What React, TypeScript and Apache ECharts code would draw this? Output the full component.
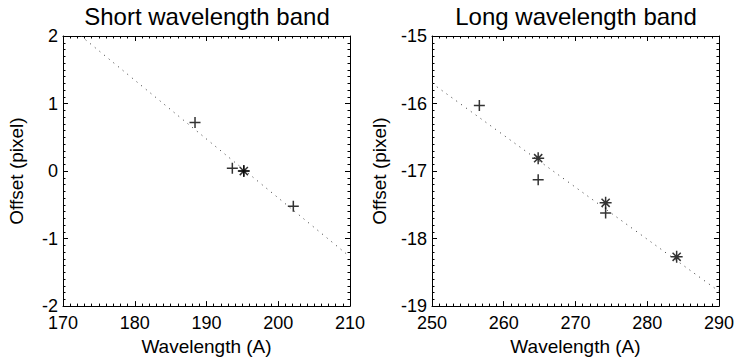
import React, { useEffect, useRef } from "react";
import * as echarts from "echarts";

const shortPlus: [number, number][] = [
  [188.4, 0.72],
  [193.6, 0.04],
  [195.2, 0.0],
  [202.1, -0.52],
];
const shortStar: [number, number][] = [[195.2, 0.0]];
const shortFit: [number, number][] = [
  [172.5, 2.0],
  [210, -1.27],
];

const longPlus: [number, number][] = [
  [256.6, -16.03],
  [264.8, -17.13],
  [274.2, -17.62],
];
const longStar: [number, number][] = [
  [264.8, -16.81],
  [274.2, -17.47],
  [284.1, -18.27],
];
const longFit: [number, number][] = [
  [250, -15.7],
  [290, -18.78],
];

const titles = ["Short wavelength band", "Long wavelength band"];
const xName = "Wavelength (A)";
const yName = "Offset (pixel)";
const xRanges: [number, number][] = [
  [170, 210],
  [250, 290],
];
const yRanges: [number, number][] = [
  [-2, 2],
  [-19, -15],
];

const FONT = "Liberation Sans, Arial, Helvetica, sans-serif";
const PLUS = "path://M0,5L10,5M5,0L5,10";
const STAR = "path://M0,5L10,5M5,0L5,10M1.6,1.6L8.4,8.4M1.6,8.4L8.4,1.6";

export default function App() {
  const ref = useRef<HTMLDivElement>(null);
  useEffect(() => {
    if (!ref.current) return;
    const chart = echarts.init(ref.current, undefined, { renderer: "svg" });
    const grids = [
      { left: 63, right: 387, top: 36, bottom: 54 },
      { left: 432, right: 17, top: 36, bottom: 54 },
    ];
    const axisLine = { show: true, onZero: false, lineStyle: { color: "#000", width: 1 } };
    const xAxes: any[] = [];
    const yAxes: any[] = [];
    [0, 1].forEach((g) => {
      const common = {
        type: "value",
        gridIndex: g,
        min: xRanges[g][0],
        max: xRanges[g][1],
        interval: 10,
        axisLine,
        splitLine: { show: false },
        axisTick: { show: true, inside: true, length: 5, lineStyle: { color: "#000" } },
        minorTick: { show: true, splitNumber: 10, length: 2.5, lineStyle: { color: "#000" } },
      };
      xAxes.push({
        ...common,
        position: "bottom",
        name: xName,
        nameLocation: "middle",
        nameGap: 27,
        nameTextStyle: { fontFamily: FONT, fontSize: 19, color: "#000" },
        axisLabel: { show: true, margin: 8, fontFamily: FONT, fontSize: 18, color: "#000" },
      });
      xAxes.push({ ...common, position: "top", axisLabel: { show: false } });
      const ycommon = {
        type: "value",
        gridIndex: g,
        min: yRanges[g][0],
        max: yRanges[g][1],
        interval: 1,
        axisLine,
        splitLine: { show: false },
        axisTick: { show: true, inside: true, length: 5, lineStyle: { color: "#000" } },
        minorTick: { show: true, splitNumber: 10, length: 2.5, lineStyle: { color: "#000" } },
      };
      yAxes.push({
        ...ycommon,
        position: "left",
        name: yName,
        nameLocation: "middle",
        nameGap: g === 0 ? 37 : 43,
        nameTextStyle: { fontFamily: FONT, fontSize: 19, color: "#000" },
        axisLabel: { show: true, margin: 5, fontFamily: FONT, fontSize: 18, lineHeight: 16, color: "#000" },
      });
      yAxes.push({ ...ycommon, position: "right", axisLabel: { show: false } });
    });

    const scatter = (data: [number, number][], g: number, sym: string, size: number) => ({
      type: "scatter",
      xAxisIndex: g * 2,
      yAxisIndex: g * 2,
      data,
      symbol: sym,
      symbolSize: size,
      itemStyle: { color: "rgba(0,0,0,0)", borderColor: "#000", borderWidth: 1.5 },
      emphasis: { disabled: true },
    });
    const fit = (data: [number, number][], g: number) => ({
      type: "line",
      xAxisIndex: g * 2,
      yAxisIndex: g * 2,
      data,
      showSymbol: false,
      symbol: "none",
      clip: true,
      lineStyle: { color: "#333", width: 1, type: [1, 5] },
      emphasis: { disabled: true },
    });

    chart.setOption({
      animation: false,
      grid: grids,
      xAxis: xAxes,
      yAxis: yAxes,
      graphic: [
        {
          type: "text",
          x: 207,
          y: 4,
          style: { text: titles[0], fontFamily: FONT, fontSize: 24, fill: "#000", textAlign: "center" },
        },
        {
          type: "text",
          x: 576,
          y: 4,
          style: { text: titles[1], fontFamily: FONT, fontSize: 24, fill: "#000", textAlign: "center" },
        },
      ],
      series: [
        fit(shortFit, 0),
        scatter(shortPlus, 0, PLUS, 11),
        scatter(shortStar, 0, STAR, 12),
        fit(longFit, 1),
        scatter(longPlus, 1, PLUS, 11),
        scatter(longStar, 1, STAR, 12),
      ],
    });
    return () => chart.dispose();
  }, []);
  return (
    <div
      ref={ref}
      style={{ position: "fixed", left: 0, top: 0, width: 737, height: 361, background: "#fff" }}
    />
  );
}
